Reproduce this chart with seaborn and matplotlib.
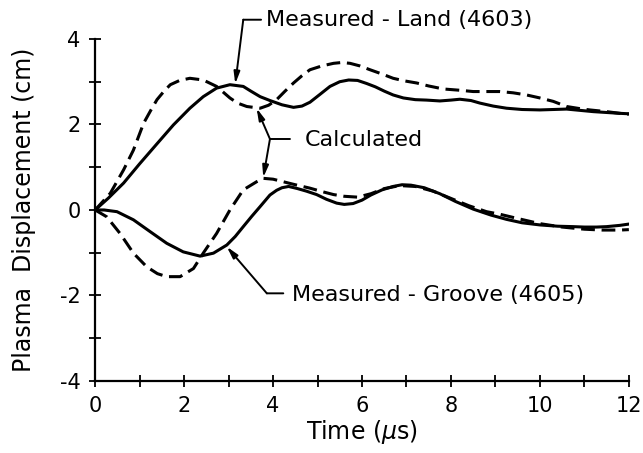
import matplotlib
matplotlib.use("Agg")
import matplotlib.pyplot as plt
from matplotlib.ticker import MultipleLocator, FixedLocator
import pandas as pd
import seaborn as sns

# ---- data ----
land_meas_t = [0, 0.3, 0.64, 1.0, 1.4, 1.76, 2.13, 2.43, 2.73, 3.03, 3.33, 3.5, 3.71, 3.93,
               4.2, 4.46, 4.65, 4.83, 5.05, 5.28, 5.5, 5.7, 5.9, 6.1, 6.3, 6.5, 6.7, 6.93,
               7.2, 7.45, 7.75, 8.0, 8.2, 8.45, 8.65, 8.95, 9.25, 9.6, 10.0, 10.3, 10.6,
               10.9, 11.2, 11.5, 11.8, 12.0]
land_meas_v = [0, 0.28, 0.63, 1.08, 1.56, 1.99, 2.38, 2.65, 2.85, 2.93, 2.89, 2.78, 2.65, 2.56,
               2.46, 2.4, 2.43, 2.52, 2.7, 2.89, 3.0, 3.04, 3.03, 2.96, 2.88, 2.78, 2.69, 2.62,
               2.58, 2.57, 2.55, 2.57, 2.59, 2.56, 2.5, 2.43, 2.38, 2.35, 2.34, 2.35, 2.36,
               2.33, 2.3, 2.28, 2.26, 2.25]

land_calc_t = [0, 0.34, 0.64, 0.86, 1.09, 1.25, 1.39, 1.55, 1.69, 1.9, 2.13, 2.43, 2.73, 3.03,
               3.2, 3.41, 3.71, 3.9, 4.08, 4.27, 4.46, 4.65, 4.83, 5.1, 5.36, 5.55, 5.73, 5.95,
               6.18, 6.45, 6.7, 6.95, 7.23, 7.5, 7.83, 8.2, 8.5, 8.8, 9.1, 9.4, 9.7, 10.0,
               10.3, 10.6, 10.9, 11.12, 11.5, 11.8, 12.0]
land_calc_v = [0, 0.39, 0.94, 1.4, 2.03, 2.33, 2.58, 2.78, 2.93, 3.03, 3.08, 3.04, 2.89, 2.62,
               2.5, 2.42, 2.38, 2.45, 2.58, 2.78, 2.97, 3.14, 3.28, 3.37, 3.43, 3.45, 3.43, 3.37,
               3.28, 3.18, 3.08, 3.02, 2.97, 2.9, 2.83, 2.8, 2.77, 2.77, 2.77, 2.74, 2.69, 2.62,
               2.54, 2.42, 2.37, 2.34, 2.3, 2.26, 2.24]

groove_meas_t = [0, 0.2, 0.49, 0.86, 1.24, 1.61, 1.98, 2.36, 2.66, 2.96, 3.15, 3.33, 3.52, 3.71,
                 3.93, 4.08, 4.2, 4.35, 4.55, 4.75, 4.98, 5.2, 5.43, 5.6, 5.8, 6.0, 6.2, 6.45,
                 6.7, 6.9, 7.1, 7.4, 7.75, 8.1, 8.5, 8.9, 9.25, 9.6, 10.0, 10.4, 10.75, 11.0,
                 11.27, 11.5, 11.8, 12.0]
groove_meas_v = [0, 0.0, -0.04, -0.23, -0.51, -0.78, -0.98, -1.08, -1.01, -0.82, -0.62, -0.39,
                 -0.15, 0.08, 0.35, 0.46, 0.52, 0.55, 0.5, 0.44, 0.36, 0.25, 0.16, 0.13, 0.15,
                 0.23, 0.35, 0.47, 0.55, 0.59, 0.58, 0.52, 0.38, 0.2, 0.02, -0.12, -0.22, -0.3,
                 -0.35, -0.38, -0.39, -0.4, -0.4, -0.39, -0.36, -0.33]

groove_calc_t = [0, 0.26, 0.56, 0.86, 1.16, 1.4, 1.61, 1.91, 2.21, 2.43, 2.73, 3.03, 3.33, 3.63,
                 3.78, 4.0, 4.23, 4.5, 4.83, 5.1, 5.36, 5.6, 5.9, 6.2, 6.5, 6.85, 7.2, 7.6, 8.0,
                 8.4, 8.8, 9.1, 9.5, 10.0, 10.5, 11.0, 11.4, 11.8, 12.0]
groove_calc_v = [0, -0.16, -0.55, -1.01, -1.33, -1.49, -1.56, -1.56, -1.37, -1.01, -0.55, 0.0,
                 0.47, 0.66, 0.74, 0.72, 0.66, 0.59, 0.51, 0.43, 0.36, 0.32, 0.3, 0.38, 0.5,
                 0.57, 0.55, 0.44, 0.27, 0.1, -0.04, -0.1, -0.2, -0.32, -0.4, -0.45, -0.47,
                 -0.47, -0.46]

x_ticks = [0, 2, 4, 6, 8, 10, 12]
y_ticks = [-4, -2, 0, 2, 4]

label_land = "Measured - Land (4603)"
label_groove = "Measured - Groove (4605)"
label_calc = "Calculated"
x_title = "Time ($\\mu$s)"
y_title = "Plasma  Displacement (cm)"

# ---- build long-form table ----
frames = []
for name, t, v in [("land_meas", land_meas_t, land_meas_v),
                   ("land_calc", land_calc_t, land_calc_v),
                   ("groove_meas", groove_meas_t, groove_meas_v),
                   ("groove_calc", groove_calc_t, groove_calc_v)]:
    frames.append(pd.DataFrame({"t": t, "v": v, "series": name}))
df = pd.concat(frames, ignore_index=True)

sns.set_style("ticks")
plt.rcParams["font.family"] = ["DejaVu Sans"]
plt.rcParams["axes.unicode_minus"] = False
plt.rcParams["text.color"] = "black"
plt.rcParams["axes.labelcolor"] = "black"
plt.rcParams["xtick.color"] = "black"
plt.rcParams["ytick.color"] = "black"

fig = plt.figure(figsize=(6.43, 4.53), dpi=100)
ax = fig.add_axes([0.148, 0.159, 0.83, 0.755])

dash = (4.5, 2.2)
sns.lineplot(data=df, x="t", y="v", hue="series", style="series",
             palette={"land_meas": "black", "land_calc": "black",
                      "groove_meas": "black", "groove_calc": "black"},
             dashes={"land_meas": "", "land_calc": dash,
                     "groove_meas": "", "groove_calc": dash},
             sort=False, estimator=None, linewidth=2.2, legend=False, ax=ax)

ax.set_xlim(0, 12)
ax.set_ylim(-4, 4)
ax.xaxis.set_major_locator(FixedLocator(x_ticks))
ax.yaxis.set_major_locator(FixedLocator(y_ticks))
ax.xaxis.set_minor_locator(MultipleLocator(1))
ax.yaxis.set_minor_locator(MultipleLocator(1))
ax.tick_params(which="both", direction="inout", length=9, width=1.3, colors="black",
               labelcolor="black", labelsize=15, pad=6)
for side in ["top", "right"]:
    ax.spines[side].set_visible(False)
for side in ["left", "bottom"]:
    ax.spines[side].set_linewidth(1.6)
    ax.spines[side].set_color("black")

ax.set_xlabel(x_title, fontsize=17, labelpad=2, color="black")
ax.set_ylabel(y_title, fontsize=17, color="black")
ax.yaxis.set_label_coords(-0.11, 0.5)

arrow_kw = dict(arrowstyle="-|>,head_length=0.7,head_width=0.18", color="black", lw=1.4,
                shrinkA=0, shrinkB=0)
line_kw = dict(arrowstyle="-", color="black", lw=1.4, shrinkA=0, shrinkB=0)

# Measured - Land
ax.text(3.85, 4.45, label_land, fontsize=16, va="center", ha="left", clip_on=False,
        color="black")
ax.annotate("", xy=(3.33, 4.45), xytext=(3.73, 4.45), arrowprops=line_kw, annotation_clip=False)
ax.annotate("", xy=(3.15, 2.95), xytext=(3.33, 4.45), arrowprops=arrow_kw, annotation_clip=False)

# Calculated
ax.text(4.72, 1.64, label_calc, fontsize=16, va="center", ha="left", color="black")
ax.annotate("", xy=(3.93, 1.66), xytext=(4.38, 1.66), arrowprops=line_kw)
ax.annotate("", xy=(3.63, 2.38), xytext=(3.93, 1.66), arrowprops=arrow_kw)
ax.annotate("", xy=(3.78, 0.76), xytext=(3.93, 1.66), arrowprops=arrow_kw)

# Measured - Groove
ax.text(4.43, -1.99, label_groove, fontsize=16, va="center", ha="left", color="black")
ax.annotate("", xy=(3.86, -1.95), xytext=(4.23, -1.95), arrowprops=line_kw)
ax.annotate("", xy=(2.96, -0.86), xytext=(3.86, -1.95), arrowprops=arrow_kw)

fig.savefig("out.png", dpi=100)
